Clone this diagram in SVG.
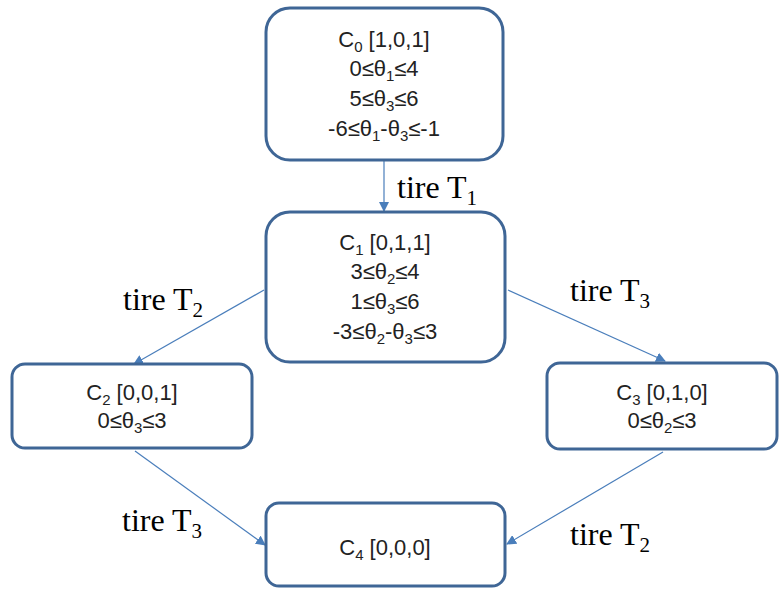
<svg xmlns="http://www.w3.org/2000/svg" width="779" height="589" viewBox="0 0 779 589">
<defs>
<marker id="ah" viewBox="0 0 10 10" refX="9" refY="5" markerWidth="10" markerHeight="10" markerUnits="userSpaceOnUse" orient="auto">
<path d="M0,0 L10,5 L0,10 z" fill="#4a7ebb"/>
</marker>
<style>
.box{fill:#fff;stroke:#3f6696;stroke-width:3}
.nt{font-family:"Liberation Sans","Open Sans",sans-serif;font-size:22px;fill:#222;text-anchor:middle}
.sb{font-size:15px}
.lb{font-family:"Liberation Serif","Times New Roman",serif;font-size:32px;fill:#000}
.ls{font-size:21px}
.cn{stroke:#4a7ebb;stroke-width:1.2;fill:none;marker-end:url(#ah)}
</style>
</defs>
<rect width="779" height="589" fill="#fff"/>
<g id="connectors">
<line class="cn" x1="384" y1="161" x2="384" y2="211"/>
<line class="cn" x1="264" y1="290" x2="134" y2="364"/>
<line class="cn" x1="508" y1="290" x2="665" y2="361"/>
<line class="cn" x1="135" y1="451" x2="265" y2="545"/>
<line class="cn" x1="663" y1="452" x2="507" y2="544"/>
<text class="lb" x="397" y="198">tire T<tspan class="ls" dy="7">1</tspan></text>
<text class="lb" x="123" y="310">tire T<tspan class="ls" dy="7">2</tspan></text>
<text class="lb" x="570" y="301">tire T<tspan class="ls" dy="7">3</tspan></text>
<text class="lb" x="122" y="531">tire T<tspan class="ls" dy="7">3</tspan></text>
<text class="lb" x="570" y="545">tire T<tspan class="ls" dy="7">2</tspan></text>
</g>
<g id="C0">
<rect class="box" x="266" y="8" width="237" height="152" rx="24"/>
<text class="nt" x="384" y="47">C<tspan class="sb" dy="5">0</tspan><tspan dy="-5"> [1,0,1]</tspan></text>
<text class="nt" x="384" y="76">0≤θ<tspan class="sb" dy="5">1</tspan><tspan dy="-5">≤4</tspan></text>
<text class="nt" x="384" y="106">5≤θ<tspan class="sb" dy="5">3</tspan><tspan dy="-5">≤6</tspan></text>
<text class="nt" x="384" y="136">-6≤θ<tspan class="sb" dy="5">1</tspan><tspan dy="-5">-θ</tspan><tspan class="sb" dy="5">3</tspan><tspan dy="-5">≤-1</tspan></text>
</g>
<g id="C1">
<rect class="box" x="266" y="212" width="239" height="150" rx="24"/>
<text class="nt" x="385" y="250">C<tspan class="sb" dy="5">1</tspan><tspan dy="-5"> [0,1,1]</tspan></text>
<text class="nt" x="385" y="279">3≤θ<tspan class="sb" dy="5">2</tspan><tspan dy="-5">≤4</tspan></text>
<text class="nt" x="385" y="309">1≤θ<tspan class="sb" dy="5">3</tspan><tspan dy="-5">≤6</tspan></text>
<text class="nt" x="385" y="339">-3≤θ<tspan class="sb" dy="5">2</tspan><tspan dy="-5">-θ</tspan><tspan class="sb" dy="5">3</tspan><tspan dy="-5">≤3</tspan></text>
</g>
<g id="C2">
<rect class="box" x="12" y="364" width="240" height="84" rx="13"/>
<text class="nt" x="132" y="400">C<tspan class="sb" dy="5">2</tspan><tspan dy="-5"> [0,0,1]</tspan></text>
<text class="nt" x="132" y="428">0≤θ<tspan class="sb" dy="5">3</tspan><tspan dy="-5">≤3</tspan></text>
</g>
<g id="C3">
<rect class="box" x="547" y="363" width="230" height="86" rx="13"/>
<text class="nt" x="662" y="400">C<tspan class="sb" dy="5">3</tspan><tspan dy="-5"> [0,1,0]</tspan></text>
<text class="nt" x="662" y="428">0≤θ<tspan class="sb" dy="5">2</tspan><tspan dy="-5">≤3</tspan></text>
</g>
<g id="C4">
<rect class="box" x="266" y="503" width="239" height="83" rx="13"/>
<text class="nt" x="385" y="555">C<tspan class="sb" dy="5">4</tspan><tspan dy="-5"> [0,0,0]</tspan></text>
</g>
</svg>
